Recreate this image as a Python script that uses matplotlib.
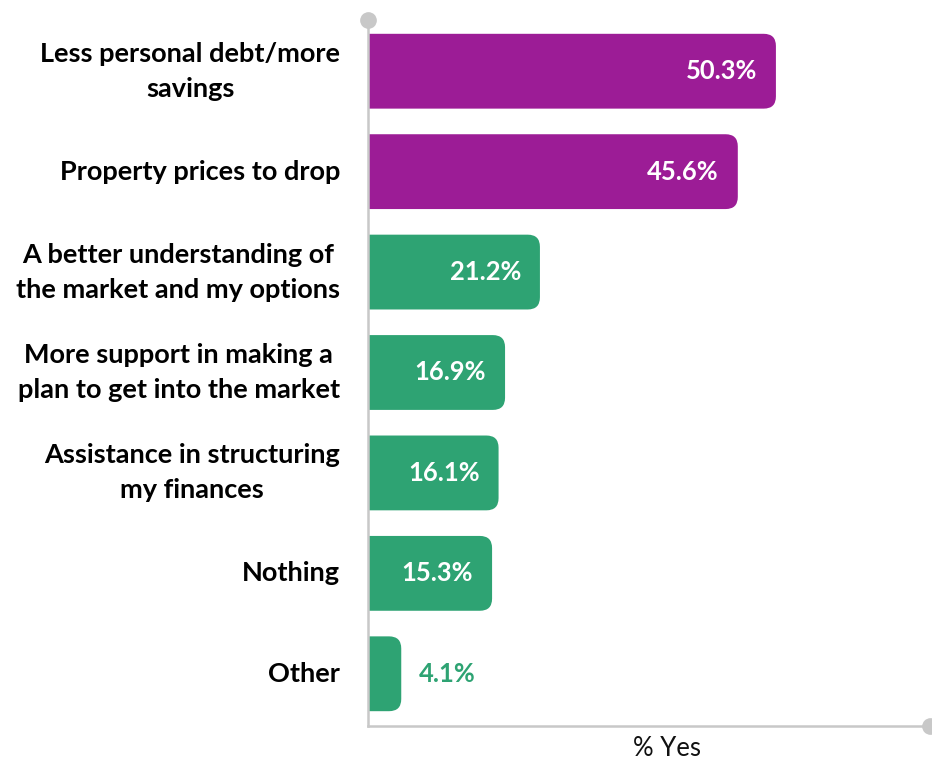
import matplotlib.pyplot as plt
from matplotlib.patches import FancyBboxPatch
from matplotlib.transforms import blended_transform_factory

plt.rcParams['font.family'] = ['Lato', 'DejaVu Sans']

categories = [
    "Less personal debt/more\nsavings",
    "Property prices to drop",
    "A better understanding of\nthe market and my options",
    "More support in making a\nplan to get into the market",
    "Assistance in structuring\nmy finances",
    "Nothing",
    "Other",
]
values = [50.3, 45.6, 21.2, 16.9, 16.1, 15.3, 4.1]
bar_colors = ["#9C1C96", "#9C1C96", "#2EA373", "#2EA373", "#2EA373", "#2EA373", "#2EA373"]
axis_label = "% Yes"

fig = plt.figure(figsize=(9.32, 7.62), dpi=100)
ax = fig.add_axes([368 / 932, 1 - 726 / 762, (930 - 368) / 932, (726 - 20) / 762])

xmax = 69.3
ax.set_xlim(0, xmax)
ax.set_ylim(6.52, -0.51)

# rounded right ends: aspect so the corner radius is equal in pixels
px_x = (930 - 368) / xmax
px_y = (726 - 20) / 7.03
aspect = px_x / px_y
bar_h = 0.745

for i, (v, c) in enumerate(zip(values, bar_colors)):
    box = FancyBboxPatch((-3, i - bar_h / 2), v + 3, bar_h,
                         boxstyle="round,pad=0,rounding_size=1.5",
                         mutation_aspect=aspect, facecolor=c, edgecolor="none")
    ax.add_patch(box)
    if v > 10:
        ax.text(v - 19 / px_x, i, f"{v}%", ha="right", va="center",
                color="white", fontsize=18.4, fontweight="bold")
    else:
        ax.text(v + 18 / px_x, i, f"{v}%", ha="left", va="center",
                color=c, fontsize=18.4, fontweight="bold")

for i, lab in enumerate(categories):
    ax.text(-28 / px_x, i, lab, ha="right", va="center", multialignment="center",
            fontsize=19.5, fontweight="bold", color="#000000", linespacing=1.55)

for s in ["top", "right"]:
    ax.spines[s].set_visible(False)
for s in ["left", "bottom"]:
    ax.spines[s].set_color("#C8C8C8")
    ax.spines[s].set_linewidth(1.8)
    ax.spines[s].set_zorder(3)
ax.set_xticks([])
ax.set_yticks([])

ax.plot([0], [-0.51], marker="o", markersize=11, color="#C8C8C8", clip_on=False, zorder=4)
ax.plot([xmax], [6.52], marker="o", markersize=11, color="#C8C8C8", clip_on=False, zorder=4)

tr = blended_transform_factory(ax.transData, fig.transFigure)
ax.text((667 - 368) / px_x, 1 - 748 / 762, axis_label, transform=tr,
        ha="center", va="center", fontsize=18.5, color="#111111")

fig.savefig("out.png", dpi=100)
